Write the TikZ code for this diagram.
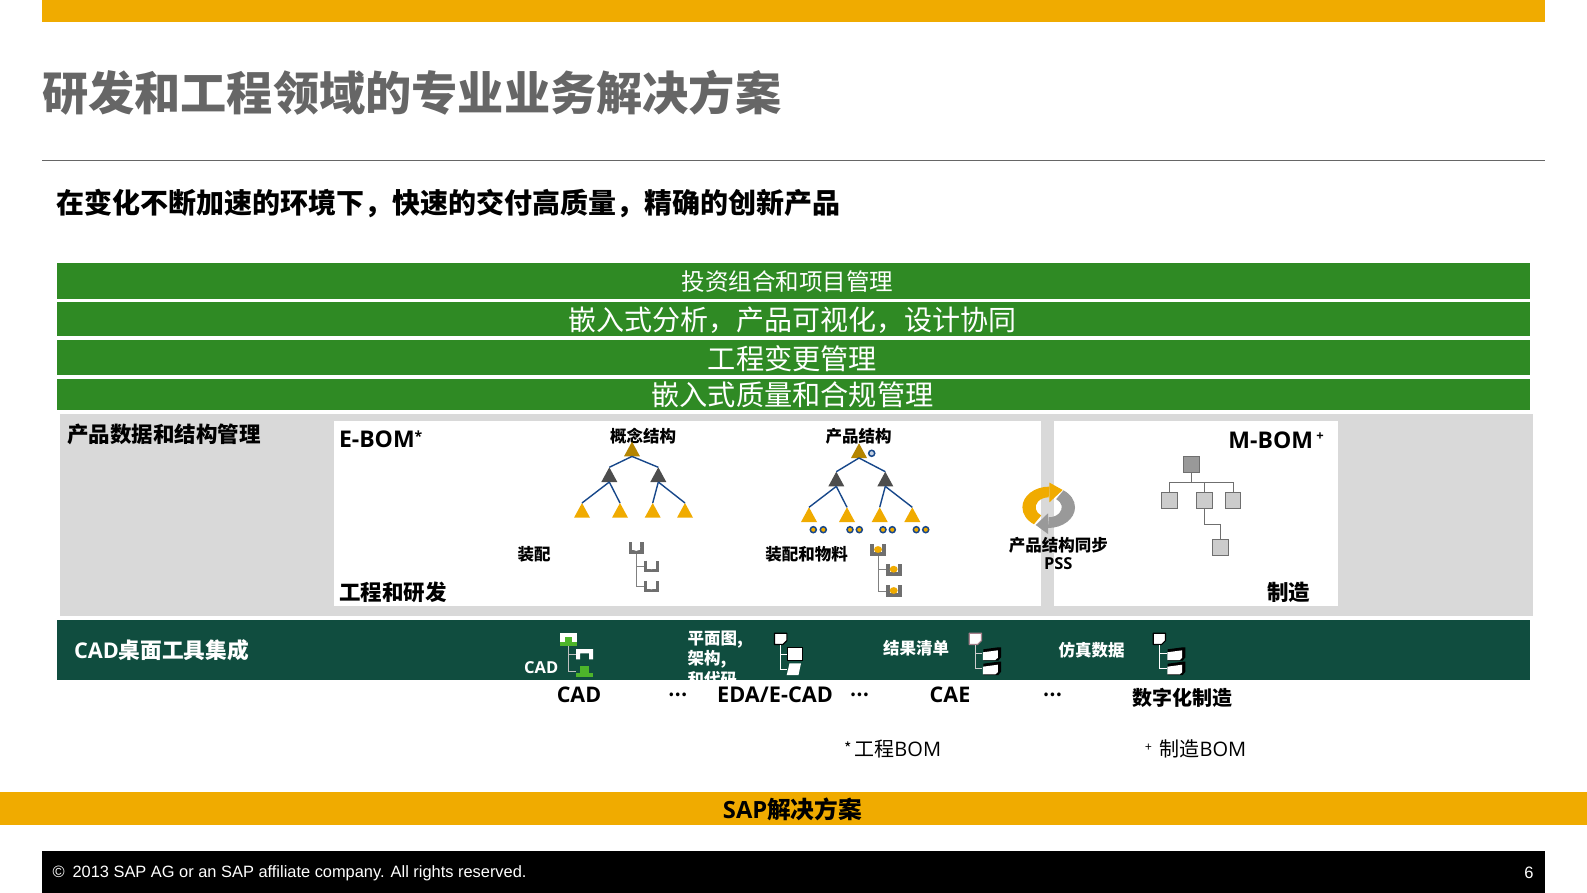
\documentclass[tikz,border=0pt]{standalone}
\usepackage{fontspec}
\usetikzlibrary{shapes.geometric}
\setmainfont{Noto Sans CJK SC}
\newfontfamily\lat{Open Sans}
\newfontfamily\arl{Liberation Sans}
\newcommand\fs[1]{\fontsize{#1}{#1}\selectfont}
\newcommand\fwc{\char"FF0C\relax}
\definecolor{sapgold}{HTML}{F0AB00}
\definecolor{rootgold}{HTML}{B58500}
\definecolor{dark}{HTML}{4D4D4D}
\definecolor{barg}{HTML}{2F8A24}
\definecolor{cadg}{HTML}{104D3F}
\definecolor{panel}{HTML}{D9D9D9}
\definecolor{treeb}{HTML}{17478A}
\definecolor{trayg}{HTML}{6F6F6F}
\definecolor{lime}{HTML}{4DB52A}
\tikzset{
  txt/.style={inner sep=0,outer sep=0,anchor=center,text=black},
  bartxt/.style={txt,text=white},
  tri/.style={isosceles triangle,isosceles triangle stretches,shape border rotate=90,minimum width=16,minimum height=14.7,inner sep=0,outer sep=0,anchor=apex,fill=#1},
  tl/.style={treeb,line width=1.4},
  dotb/.style={circle,inner sep=0,minimum size=6,draw=treeb,line width=1.5,fill=#1},
  sq/.style={rectangle,inner sep=0,outer sep=0,minimum size=15.5,draw=trayg,line width=1,fill=#1},
  sqline/.style={draw=trayg,line width=1},
  tconn/.style={draw=#1,line width=1},
  anch/.style={rectangle,inner sep=0,outer sep=0,anchor=north west,minimum width=#1}
}
% U-shaped tray
\newcommand\tray[4][white]{%
  \node[anch=15.5,minimum height=11.6] (#2) at (#3,#4) {};
  \begin{scope}[shift={(#3,#4)}]
    \draw[trayg,line width=3.6] (1.8,0) -- (1.8,9.8) -- (13.7,9.8) -- (13.7,0);
    \fill[#1] (7.7,5.2) ellipse [x radius=4,y radius=3.4];
  \end{scope}}
% document with dog-ear
\newcommand\docicon[4]{%
  \node[anch=13.3,minimum height=12.3] (#1) at (#2,#3) {};
  \begin{scope}[shift={(#2,#3)}]
    \draw[#4,fill=white,line width=1.1,line join=round] (0.5,0.5) -- (12.8,0.5) -- (12.8,8) -- (9,11.8) -- (0.5,11.8) -- cycle;
  \end{scope}}
% block with dark shaded side
\newcommand\cube[3]{%
  \node[anch=19,minimum height=13.3] (#1) at (#2,#3) {};
  \begin{scope}[shift={(#2,#3)}]
    \fill[black] (1,2) -- (16,0) -- (18.7,0) -- (18.7,10) -- (16,13.3) -- (1,13.3) -- cycle;
    \fill[white] (0.6,5) -- (15.5,3) -- (15.5,10.5) -- (13,12.7) -- (0.6,12.7) -- cycle;
  \end{scope}}
\begin{document}
\begin{tikzpicture}[x=1pt,y=-1pt]
\useasboundingbox (0,0) rectangle (1587,893);
\fill[white] (0,0) rectangle (1587,893);
% top
\fill[sapgold] (42,0) rectangle (1545,22);
\node[txt,anchor=west,text=black!60,font=\fs{46.2}\bfseries] (title) at (42,92.5) {研发和工程领域的专业业务解决方案};
\draw[black!60,line width=0.8] (42,160) -- (1545,160);
\node[txt,anchor=west,font=\fs{28}\bfseries] (sub) at (56,204) {在变化不断加速的环境下\fwc 快速的交付高质量\fwc 精确的创新产品};
% green bars
\fill[barg] (57,263) rectangle (1530,298.5);
\fill[barg] (57,301.5) rectangle (1530,336);
\fill[barg] (57,340) rectangle (1530,374.5);
\fill[barg] (57,378.5) rectangle (1530,410);
\node[bartxt,font=\fs{23.5}] (b1) at (787.5,282) {投资组合和项目管理};
\node[bartxt,font=\fs{28}] (b2) at (792.5,320.5) {嵌入式分析\fwc 产品可视化\fwc 设计协同};
\node[bartxt,font=\fs{28.2}] (b3) at (792.5,358.5) {工程变更管理};
\node[bartxt,font=\fs{28.2}] (b4) at (792.5,395) {嵌入式质量和合规管理};
% panel
\fill[panel] (60,414) rectangle (1533,616);
\fill[white] (334,421) rectangle (1041,606);
\fill[white] (1054,421) rectangle (1338,606);
\node[txt,anchor=west,font=\fs{21.5}\bfseries] (pd) at (67,434) {产品数据和结构管理};
\node[txt,anchor=west,font=\fs{23}\bfseries\lat] (ebom) at (339,439) {E-BOM\raisebox{6pt}{\fs{14}*}};
\node[txt,anchor=west,font=\fs{21.5}\bfseries] (gc) at (339,592) {工程和研发};
\node[txt,font=\fs{16.5}\bfseries] (gn1) at (643,436) {概念结构};
\node[txt,font=\fs{16.5}\bfseries] (gn2) at (858.5,436) {产品结构};
\node[txt,font=\fs{16.5}\bfseries] (as1) at (534,554) {装配};
\node[txt,font=\fs{16.5}\bfseries] (as2) at (806.7,554) {装配和物料};
% tree 1
\node[tri=rootgold] (a0) at (632,441.7) {};
\node[tri=dark] (a1) at (609.3,467.3) {};
\node[tri=dark] (a2) at (658.3,467.3) {};
\node[tri=sapgold] (a3) at (582,503) {};
\node[tri=sapgold] (a4) at (620,503) {};
\node[tri=sapgold] (a5) at (652.7,503) {};
\node[tri=sapgold] (a6) at (685,503) {};
\draw[tl] (a0.lower side) -- (a1.apex);
\draw[tl] (a0.lower side) -- (a2.apex);
\draw[tl] (a1.lower side) -- (a3.apex);
\draw[tl] (a1.lower side) -- (a4.apex);
\draw[tl] (a2.lower side) -- (a5.apex);
\draw[tl] (a2.lower side) -- (a6.apex);
% tree 2
\node[tri=rootgold] (p0) at (859,443.3) {};
\node[tri=dark] (p1) at (836.3,471.7) {};
\node[tri=dark] (p2) at (885.3,471.7) {};
\node[tri=sapgold] (p3) at (809,507.3) {};
\node[tri=sapgold] (p4) at (847,507.3) {};
\node[tri=sapgold] (p5) at (879.7,507.3) {};
\node[tri=sapgold] (p6) at (912.3,507.3) {};
\draw[tl] (p0.lower side) -- (p1.apex);
\draw[tl] (p0.lower side) -- (p2.apex);
\draw[tl] (p1.lower side) -- (p3.apex);
\draw[tl] (p1.lower side) -- (p4.apex);
\draw[tl] (p2.lower side) -- (p5.apex);
\draw[tl] (p2.lower side) -- (p6.apex);
\node[dotb={treeb!25}] (d0) at (871.7,453.3) {};
\foreach \n/\x in {1/813.3,2/823.3,3/850,4/859.3,5/883,6/892.3,7/916.3,8/925.7}
  \node[dotb=sapgold] (d\n) at (\x,529.7) {};
% trays
\tray{t1}{628.5}{542.3}
\tray{t2}{643.7}{560.7}
\tray{t3}{643.7}{580.8}
\draw[tconn=black!50] (t1.south) |- (t2.west);
\draw[tconn=black!50] (t1.south) |- (t3.west);
\tray[sapgold]{u1}{870.3}{544.3}
\tray[sapgold]{u2}{886}{564}
\tray[sapgold]{u3}{886}{585.3}
\draw[tconn=black!50] (u1.south) |- (u2.west);
\draw[tconn=black!50] (u1.south) |- (u3.west);
% sync icon
\begin{scope}[shift={(1048.7,507.3)}]
  \fill[sapgold] (0.7,-20.7) arc[start angle=270,end angle=125,x radius=27,y radius=20.7]
     -- (-7.5,8.2) arc[start angle=125,end angle=270,x radius=13,y radius=10] -- cycle;
  \fill[sapgold] (0.7,-24.7) -- (14,-17.3) -- (0.7,-5) -- cycle;
  \fill[black!40] (-0.7,20.7) arc[start angle=90,end angle=-55,x radius=27,y radius=20.7]
     -- (7.5,-8.2) arc[start angle=-55,end angle=90,x radius=13,y radius=10] -- cycle;
  \fill[black!40] (-0.7,26.7) -- (-13,17.7) -- (-0.7,6) -- cycle;
\end{scope}
\node[txt,font=\fs{16.5}\bfseries] (pss1) at (1058.3,545) {产品结构同步};
\node[txt,font=\fs{16.5}\bfseries\lat] (pss2) at (1058.3,564) {PSS};
% M-BOM
\node[txt,anchor=east,font=\fs{23}\bfseries\lat] (mbom) at (1313,440) {M-BOM};
\node[txt,font=\fs{13}\bfseries\lat] (mplus) at (1320,437) {+};
\node[txt,font=\fs{21.5}\bfseries] (mf) at (1288.8,592.7) {制造};
\node[sq=black!40] (r0) at (1191.7,464.5) {};
\node[sq=black!20] (r1) at (1169.3,500.5) {};
\node[sq=black!20] (r2) at (1204.3,500.5) {};
\node[sq=black!20] (r3) at (1233,500.5) {};
\node[sq=black!20] (r4) at (1220.3,547.5) {};
\coordinate (bus) at (0,482.3);
\coordinate (elb) at (0,524.3);
\draw[sqline] (r0.south) -- (r0.south|-bus);
\draw[sqline] (r1.north) -- (r1.north|-bus) -- (r3.north|-bus) -- (r3.north);
\draw[sqline] (r2.north) -- (r2.north|-bus);
\draw[sqline] (r2.south) -- (r2.south|-elb) -- (r4.north|-elb) -- (r4.north);
% CAD bar
\fill[cadg] (57,620) rectangle (1530,680);
\begin{scope}
  \clip (57,620) rectangle (1530,680);
  \node[bartxt,anchor=north west,align=left,font=\fontsize{16.5}{20.3}\selectfont\bfseries] (plan) at (687.5,631) {平面图,\\架构,\\和代码};
\end{scope}
\node[bartxt,anchor=west,font=\fs{21.7}\bfseries] (cadt) at (74,650) {{\lat CAD}桌面工具集成};
\node[bartxt,font=\fs{16.5}\bfseries\lat] (cadl) at (541.2,667.7) {CAD};
\node[bartxt,font=\fs{16.5}\bfseries] (res) at (916,648.5) {结果清单};
\node[bartxt,font=\fs{16.5}\bfseries] (sim) at (1091.7,650.5) {仿真数据};
% CAD icon
\node[anch=17,minimum height=12.4] (c1) at (560,633.3) {};
\node[anch=17,minimum height=10.3] (c2) at (576,649) {};
\node[anch=17,minimum height=10.7] (c3) at (576,666) {};
\draw[tconn=black!25] (c1.south) |- (c2.west);
\draw[tconn=black!25] (c1.south) |- (c3.west);
\fill[white] (560,633.3) rectangle (577,641.5);
\fill[lime] (560,641.5) rectangle (577,645.7);
\fill[lime] (565,637.3) rectangle (572,641.5);
\fill[white] (576,649) -- (593,649) -- (593,659.3) -- (589,659.3) -- (589,653.3) -- (580,653.3) -- (580,659.3) -- (576,659.3) -- cycle;
\fill[lime] (580,666) rectangle (589,672.7);
\fill[lime] (576,672.7) rectangle (593,676.7);
% EDA icon
\docicon{e1}{774}{632.7}{black}
\node[anch=15.4,minimum height=13.4] (e2) at (787.3,647.3) {};
\node[anch=14.3,minimum height=11.7] (e3) at (786.7,663.3) {};
\draw[tconn=white] (e1.south) |- (e2.west);
\draw[tconn=white] (e1.south) |- (e3.west);
\draw[black,fill=white,line width=1.1] (787.8,647.8) rectangle (802.2,660.2);
\fill[white] (789.5,663.3) -- (801,663.3) -- (798.5,675) -- (786.7,675) -- cycle;
% CAE icon
\docicon{f1}{968.7}{632.7}{black!60!purple!50!white}
\cube{f2}{982.3}{647.3}
\cube{f3}{982.3}{661.7}
\draw[tconn=black!20] (f1.south) |- (f2.west);
\draw[tconn=black!20] (f1.south) |- (f3.west);
% simulation icon
\docicon{g1}{1152.7}{632.7}{black}
\cube{g2}{1166.7}{647.3}
\cube{g3}{1166.7}{661.7}
\draw[tconn=white] (g1.south) |- (g2.west);
\draw[tconn=white] (g1.south) |- (g3.west);
% under-bar labels
\node[txt,font=\fs{21.5}\bfseries\lat] (l1) at (579,695) {CAD};
\node[txt,font=\fs{17}\bfseries] (dd1) at (677.7,695) {…};
\node[txt,font=\fs{21.7}\bfseries\lat] (l2) at (775,695) {EDA/E-CAD};
\node[txt,font=\fs{17}\bfseries] (dd2) at (859.3,695) {…};
\node[txt,font=\fs{21.5}\bfseries\lat] (l3) at (950,695) {CAE};
\node[txt,font=\fs{17}\bfseries] (dd3) at (1052.3,695) {…};
\node[txt,font=\fs{20}\bfseries] (l4) at (1182.5,697.5) {数字化制造};
\node[txt,anchor=west,font=\fs{20}] (n1) at (844,749) {\raisebox{2pt}{\fs{16}*}\hspace{3pt}工程{\lat BOM}};
\node[txt,anchor=west,font=\fs{20}] (n2) at (1145,749) {\raisebox{5pt}{\fs{12}+}\hspace{8pt}制造{\lat BOM}};
% SAP bar and footer
\fill[sapgold] (0,791.5) rectangle (1587,824.5);
\node[txt,font=\fs{23.7}\bfseries] (sap) at (792.5,809) {{\lat SAP}解决方案};
\fill[black] (42,851) rectangle (1545,893);
\node[bartxt,anchor=west,font=\fs{16.4}\arl] (copy) at (52.5,873) {©\hspace{8pt}2013 SAP AG or an SAP affiliate company. All rights reserved.};
\node[bartxt,font=\fs{16.5}\arl] (pg) at (1529,873) {6};
\end{tikzpicture}
\end{document}
